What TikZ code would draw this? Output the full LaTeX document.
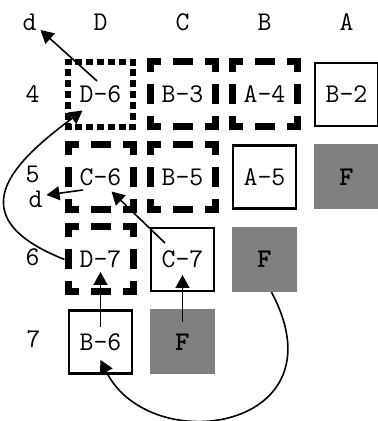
\documentclass[tikz,border=0pt]{standalone}
\usetikzlibrary{arrows.meta,positioning}
\newcommand\gridfont{\fontsize{27}{29}\selectfont\ttfamily}

\begin{document}
\begin{tikzpicture}[
  x=1pt, y=1pt,
  node distance = 82.5pt and 82pt, on grid,
  every node/.style = {font=\gridfont, inner sep=0pt},
  seenbox/.style = {draw, line width=7pt, line cap=rect,
    dash pattern=on 14pt off 19pt on 13pt off 19pt, dash phase=7pt,
    minimum size=65pt},
  curbox/.style = {draw, line width=6pt, line cap=rect,
    dash pattern=on 1pt off 9.833pt, dash phase=0.5pt, minimum size=65pt},
  openbox/.style = {draw, line width=2.5pt, minimum size=63pt},
  fullbox/.style = {fill=gray, minimum size=65pt, font=\gridfont\bfseries},
  arr/.style = {-{Triangle[length=13pt,width=14pt]}, line width=1.6pt}
]
\useasboundingbox (0,0) rectangle (378,421);

\node[curbox]                  (d6) at (100.5,326.5) {D-6};
\node[seenbox, right=of d6]    (b3) {B-3};
\node[seenbox, right=of b3]    (a4) {A-4};
\node[openbox, right=of a4]    (b2) {B-2};
\node[seenbox, below=of d6]    (c6) {C-6};
\node[seenbox, right=of c6]    (b5) {B-5};
\node[openbox, right=of b5]    (a5) {A-5};
\node[fullbox, right=of a5]    (f5) {F};
\node[seenbox, below=of c6]    (d7) {D-7};
\node[openbox, right=of d7]    (c7) {C-7};
\node[fullbox, right=of c7]    (f6) {F};
\node[openbox, below=of d7]    (b6) {B-6};
\node[fullbox, right=of b6]    (f7) {F};

\node[above=72.5pt of d6]      (hD) {D};
\node[above=72.5pt of b3]      (hC) {C};
\node[above=72.5pt of a4]      (hB) {B};
\node[above=72.5pt of b2]      (hA) {A};
\node[left=71pt of hD]         (hd) {d};
\node[left=68pt of d6]         (r4) {4};
\node[above left=3pt and 68pt of c6] (r5) {5};
\node[below right=25pt and 3pt of r5] (d5) {d};
\node[above left=2pt and 68pt of d7] (r6) {6};
\node[above left=3pt and 67pt of b6] (r7) {7};

\draw[arr] ([shift={(-3.5,13.5)}]d6.center) -- ([shift={(11,-8)}]hd.center);
\draw[arr] (d7.west) .. controls (-45,205) and (15,260) .. ([shift={(-18,-16)}]d6.center);
\draw[arr] ([shift={(-17.5,-13)}]c6.center) -- ([shift={(11,4)}]d5.center);
\draw[arr] ([shift={(-17.5,16.5)}]c7.center) -- ([shift={(11,-14.5)}]c6.center);
\draw[arr] ([shift={(0,15)}]b6.center) -- ([shift={(0,-12.5)}]d7.center);
\draw[arr] ([shift={(0,20)}]f7.center) -- ([shift={(0,-15.5)}]c7.center);
\draw[arr] ([xshift=7pt]f6.south) .. controls (345,-9) and (150,-39) .. ([shift={(0,-18)}]b6.center);
\end{tikzpicture}
\end{document}
